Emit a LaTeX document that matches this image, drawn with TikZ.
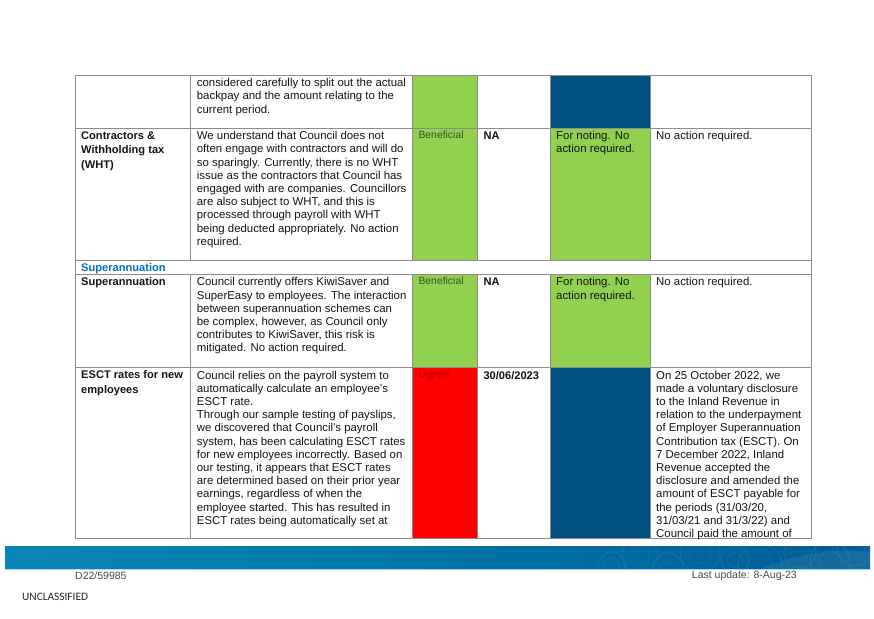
\documentclass[tikz,border=0pt]{standalone}
\usepackage{fontspec}
\setmainfont{Liberation Sans}
\newfontfamily\calibfont{Carlito}
\definecolor{cgreen}{HTML}{92D050}
\definecolor{cblue}{HTML}{00507D}
\definecolor{cred}{HTML}{FF0000}
\definecolor{gridc}{HTML}{8C8C8C}
\definecolor{hdrblue}{HTML}{0070C0}
\definecolor{benc}{HTML}{36522D}
\definecolor{urgc}{HTML}{B80000}
\definecolor{footc}{HTML}{4A4A4A}
\definecolor{bandA}{HTML}{1596C6}
\definecolor{bandB}{HTML}{007DAE}
\definecolor{bandC}{HTML}{005F97}
\definecolor{bandD}{HTML}{3A6AAA}
\pgfdeclarehorizontalshading{bandshade}{100bp}{color(0bp)=(bandA); color(40bp)=(bandB); color(72bp)=(bandC); color(100bp)=(bandD)}
\begin{document}
\begin{tikzpicture}[x=1pt,y=-1pt,
  body/.style={anchor=north west,inner sep=0pt,align=left,font=\fontsize{11.4}{13.2}\selectfont,text=black!92},
  lbl/.style={anchor=north west,inner sep=0pt,align=left,font=\fontsize{11.1}{14.6}\selectfont\bfseries,text=black!92},
  rating/.style={anchor=north west,inner sep=0pt,font=\fontsize{10.4}{12}\selectfont},
  boldcell/.style={anchor=north west,inner sep=0pt,font=\fontsize{11.1}{13.2}\selectfont\bfseries,text=black!92},
  foot/.style={inner sep=0pt,font=\fontsize{10.5}{12}\selectfont,text=footc},
  gridline/.style={draw=gridc,line width=0.9pt},
  cellfill/.style={draw=none}]
\useasboundingbox (0,0) rectangle (874,618);
\fill[white] (0,0) rectangle (874,618);

% column and row positions
\def\cA{75.7}\def\cB{190.7}\def\cC{412.5}\def\cD{477.7}\def\cE{550.3}\def\cF{650.3}\def\cG{811}
\def\rA{75}\def\rB{128.3}\def\rC{260}\def\rD{274.3}\def\rE{367.5}\def\rF{538}

% coloured cells
\fill[cgreen] (\cC,\rA) rectangle (\cD,\rB);
\fill[cblue]  (\cE,\rA) rectangle (\cF,\rB);
\fill[cgreen] (\cC,\rB) rectangle (\cD,\rC);
\fill[cgreen] (\cE,\rB) rectangle (\cF,\rC);
\fill[cgreen] (\cC,\rD) rectangle (\cD,\rE);
\fill[cgreen] (\cE,\rD) rectangle (\cF,\rE);
\fill[cred]   (\cC,\rE) rectangle (\cD,\rF);
\fill[cblue]  (\cE,\rE) rectangle (\cF,\rF);

% grid
\draw[gridline] (\cA,\rA) rectangle (\cG,\rF);
\foreach \y in {\rB,\rC,\rD,\rE} \draw[gridline] (\cA,\y) -- (\cG,\y);
\foreach \x in {\cB,\cC,\cD,\cE,\cF} {
  \draw[gridline] (\x,\rA) -- (\x,\rC);
  \draw[gridline] (\x,\rD) -- (\x,\rF);
}

% row 1
\node[body] (r1t) at (196.7,78.2) {considered carefully to split out the actual\\backpay and the amount relating to the\\current period.};

% row 2
\node[lbl] (r2l) at (81,131.2) {Contractors \&\\Withholding tax\\(WHT)};
\node[body] (r2t) at (196.7,131.2) {We understand that Council does not\\often engage with contractors and will do\\so sparingly. Currently, there is no WHT\\issue as the contractors that Council has\\engaged with are companies. Councillors\\are also subject to WHT, and this is\\processed through payroll with WHT\\being deducted appropriately. No action\\required.};
\node[rating,text=benc] (r2r) at (418.3,130.6) {Beneficial};
\node[boldcell] (r2d) at (483.3,131.4) {NA};
\node[body] (r2a) at (556,131.2) {For noting. No\\action required.};
\node[body] (r2c) at (656,131.2) {No action required.};

% section header
\node[anchor=north west,inner sep=0pt,font=\fontsize{11.1}{13}\selectfont\bfseries,text=hdrblue] (sec) at (81,263) {Superannuation};

% row 3
\node[lbl] (r3l) at (81,277.4) {Superannuation};
\node[body] (r3t) at (196.7,277.4) {Council currently offers KiwiSaver and\\SuperEasy to employees. The interaction\\between superannuation schemes can\\be complex, however, as Council only\\contributes to KiwiSaver, this risk is\\mitigated. No action required.};
\node[rating,text=benc] (r3r) at (418.3,276.8) {Beneficial};
\node[boldcell] (r3d) at (483.3,277.6) {NA};
\node[body] (r3a) at (556,277.4) {For noting. No\\action required.};
\node[body] (r3c) at (656,277.4) {No action required.};

% row 4
\node[lbl] (r4l) at (81,370.6) {ESCT rates for new\\employees};
\node[body] (r4t) at (196.7,370.6) {Council relies on the payroll system to\\automatically calculate an employee’s\\ESCT rate.\\Through our sample testing of payslips,\\we discovered that Council’s payroll\\system, has been calculating ESCT rates\\for new employees incorrectly. Based on\\our testing, it appears that ESCT rates\\are determined based on their prior year\\earnings, regardless of when the\\employee started. This has resulted in\\ESCT rates being automatically set at};
\node[rating,text=urgc] (r4r) at (418.3,370) {Urgent};
\node[boldcell] (r4d) at (483.3,370.8) {30/06/2023};
\node[body] (r4c) at (656,370.6) {On 25 October 2022, we\\made a voluntary disclosure\\to the Inland Revenue in\\relation to the underpayment\\of Employer Superannuation\\Contribution tax (ESCT). On\\7 December 2022, Inland\\Revenue accepted the\\disclosure and amended the\\amount of ESCT payable for\\the periods (31/03/20,\\31/03/21 and 31/3/22) and\\Council paid the amount of};

% footer band
\shade[shading=bandshade] (5,546.7) rectangle (870,569.3);
\begin{scope}
  \clip (5,546.7) rectangle (870,569.3);
  \foreach \cx/\cy/\rr in {612/566/14, 640/556/18, 668/568/15, 700/552/20, 735/560/14, 760/566/22, 800/552/16, 830/562/20, 855/548/18} {
    \draw[white,opacity=0.06,line width=1.2pt] (\cx,\cy) circle[radius=\rr];
    \draw[white,opacity=0.05,line width=0.8pt] (\cx,\cy) circle[radius=0.55*\rr];
  }
  \fill[white,opacity=0.07] (760,569.3) .. controls (800,552) and (840,548) .. (870,552) -- (870,569.3) -- cycle;
\end{scope}
\draw[cyan!40!white,line width=0.7pt] (5,569.3) -- (870,569.3);

\node[foot,anchor=base west] (docid) at (75,579.5) {D22/59985};
\node[foot,anchor=base east] (upd) at (797,578.7) {Last update: 8-Aug-23};
\node[inner sep=0pt,anchor=base west,font=\calibfont\fontsize{11.35}{13}\selectfont,text=black!85] (uncl) at (22,600) {UNCLASSIFIED};
\end{tikzpicture}
\end{document}
